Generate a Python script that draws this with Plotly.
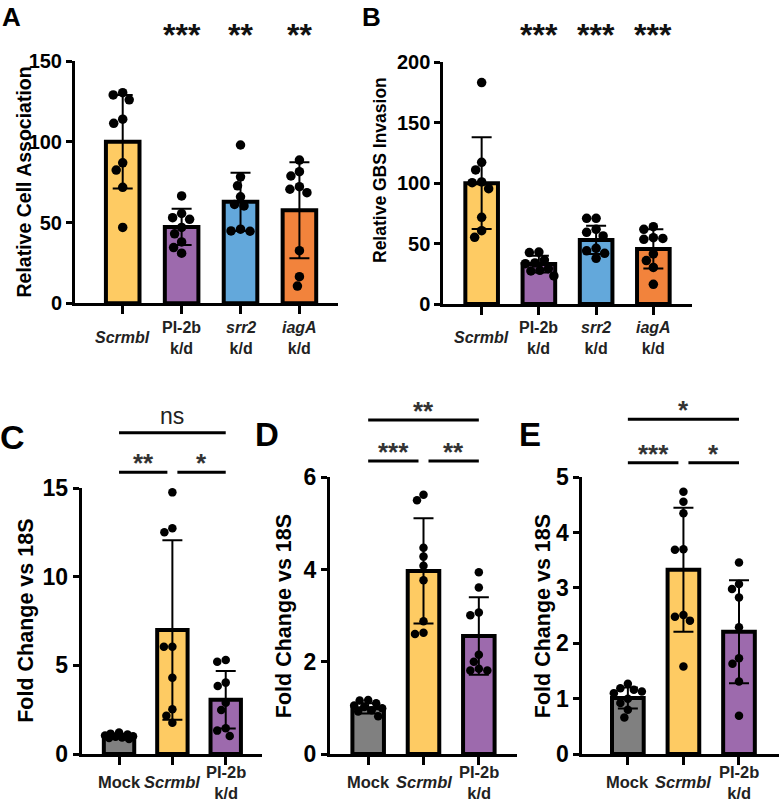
import numpy as np
import plotly.graph_objects as go

W, H = 779, 804
FONT = "Liberation Sans, Arial, Helvetica, sans-serif"

# ---------------- data ----------------
a_labels = ["<i>Scrmbl</i>", "PI-2b<br>k/d", "<i>srr2</i><br>k/d", "<i>iagA</i><br>k/d"]
a_means = [100.0, 47.3, 62.8, 57.6]
a_sd = [29.0, 11.2, 18.0, 29.7]
a_scrmbl = [130.4, 129.0, 126.0, 114.0, 111.4, 87.0, 82.5, 71.8, 47.0]
a_pi2b = [66.5, 55.6, 53.0, 52.0, 47.0, 43.0, 38.0, 34.5, 31.0]
a_srr2 = [98.0, 78.3, 72.7, 65.9, 61.2, 60.3, 45.9, 44.8, 44.6]
a_iaga = [88.7, 81.5, 78.8, 72.2, 70.6, 68.5, 32.6, 16.5, 10.7]
a_stars = ["", "***", "**", "**"]

b_labels = a_labels
b_means = [100.0, 33.0, 53.0, 45.6]
b_sd = [38.0, 7.0, 11.7, 16.2]
b_scrmbl = [183.2, 117.2, 110.9, 101.0, 100.4, 95.4, 71.7, 60.7, 55.2]
b_pi2b = [43.0, 42.6, 36.4, 34.0, 33.4, 29.2, 27.9, 27.3, 23.2]
b_srr2 = [70.9, 70.9, 61.8, 59.3, 56.3, 46.1, 44.0, 41.9, 37.8]
b_iaga = [64.0, 61.8, 54.9, 54.3, 53.5, 41.4, 35.9, 30.3, 16.3]
b_stars = ["", "***", "***", "***"]

cde_labels = ["Mock", "<i>Scrmbl</i>", "PI-2b<br>k/d"]

c_means = [1.02, 7.0, 3.06]
c_sd = [0.12, 5.07, 1.62]
c_mock = [1.22, 1.15, 1.10, 1.05, 1.00, 0.97, 0.93, 0.90, 0.85]
c_scrmbl = [14.77, 12.74, 12.52, 6.06, 6.06, 4.31, 2.52, 2.16, 1.77]
c_pi2b = [5.31, 5.21, 4.03, 3.84, 2.90, 2.48, 1.45, 1.32, 1.02]
c_comp = [(0, 1, "**"), (1, 2, "*"), (0, 2, "ns")]

d_means = [0.99, 3.97, 2.56]
d_sd = [0.11, 1.14, 0.84]
d_mock = [1.17, 1.16, 1.10, 1.05, 1.02, 0.99, 0.95, 0.92, 0.82]
d_scrmbl = [5.62, 5.50, 4.47, 4.28, 4.08, 3.77, 2.88, 2.60, 2.63]
d_pi2b = [3.94, 3.61, 3.07, 3.01, 2.15, 2.00, 1.85, 1.81, 1.81]
d_comp = [(0, 1, "***"), (1, 2, "**"), (0, 2, "**")]

e_means = [1.01, 3.33, 2.21]
e_sd = [0.19, 1.12, 0.93]
e_mock = [1.27, 1.19, 1.16, 1.13, 1.10, 1.00, 0.92, 0.80, 0.66]
e_scrmbl = [4.74, 4.56, 4.35, 3.70, 3.69, 2.51, 2.48, 2.41, 1.58]
e_pi2b = [3.46, 3.07, 2.98, 2.83, 2.29, 1.73, 1.63, 1.31, 0.69]
e_comp = [(0, 1, "***"), (1, 2, "*"), (0, 2, "*")]

YELLOW, PURPLE, BLUE, ORANGE, GRAY = "#FECB63", "#9D6AAD", "#63A8DB", "#F2833C", "#808080"

# ---------------- layout geometry (pixels) ----------------
panels = [
    dict(key="A", x0=75, x1=338.3, ytop=61, ybot=303.3, xr=[-0.81, 3.66], yr=[0, 150], dt=50,
         groups=[a_scrmbl, a_pi2b, a_srr2, a_iaga], means=a_means, sd=a_sd, labels=a_labels,
         colors=[YELLOW, PURPLE, BLUE, ORANGE], title="Relative Cell Association", tsize=19.5,
         tx=23, ty=182.5, tickfs=20, ms=9.5, lim=15, lab_y=338, lab_fs=16),
    dict(key="B", x0=443.3, x1=691.7, ytop=62.3, ybot=304, xr=[-0.67, 3.67], yr=[0, 200], dt=50,
         groups=[b_scrmbl, b_pi2b, b_srr2, b_iaga], means=b_means, sd=b_sd, labels=b_labels,
         colors=[YELLOW, PURPLE, BLUE, ORANGE], title="Relative GBS Invasion", tsize=17.5,
         tx=380, ty=170, tickfs=20, ms=9.5, lim=15, lab_y=338, lab_fs=16),
    dict(key="C", x0=81.7, x1=262, ytop=488.3, ybot=754, xr=[-0.7, 2.68], yr=[0, 15], dt=5,
         groups=[c_mock, c_scrmbl, c_pi2b], means=c_means, sd=c_sd, labels=cde_labels,
         colors=[GRAY, YELLOW, PURPLE], title="Fold Change vs 18S", tsize=21.5,
         tx=26, ty=620.8, tickfs=23, ms=8.5, lim=14, lab_y=782, lab_fs=16.5,
         comp=c_comp, low=472.3, high=432.7),
    dict(key="D", x0=330, x1=517, ytop=477.3, ybot=754, xr=[-0.69, 2.69], yr=[0, 6], dt=2,
         groups=[d_mock, d_scrmbl, d_pi2b], means=d_means, sd=d_sd, labels=cde_labels,
         colors=[GRAY, YELLOW, PURPLE], title="Fold Change vs 18S", tsize=21.5,
         tx=283.5, ty=616.7, tickfs=23, ms=8.5, lim=14, lab_y=782, lab_fs=16.5,
         comp=d_comp, low=461, high=420),
    dict(key="E", x0=582.3, x1=779, ytop=477.3, ybot=754, xr=[-0.82, 2.72], yr=[0, 5], dt=1,
         groups=[e_mock, e_scrmbl, e_pi2b], means=e_means, sd=e_sd, labels=cde_labels,
         colors=[GRAY, YELLOW, PURPLE], title="Fold Change vs 18S", tsize=21.5,
         tx=542.5, ty=616.7, tickfs=23, ms=8.5, lim=14, lab_y=782, lab_fs=16.5,
         comp=e_comp, low=462.7, high=419.3),
]


def px_x(p):
    return p / W


def px_y(p):
    return 1 - p / H


def swarm(vals, ppu_y, d, limit):
    ys = [v * ppu_y for v in vals]
    order = sorted(range(len(vals)), key=lambda i: -vals[i])
    grid = np.arange(-limit, limit + 1e-9, 0.5)
    px, py = [], []
    out = [0.0] * len(vals)
    for i in order:
        y = ys[i]
        if px:
            dist = np.min(np.hypot(grid[:, None] - np.array(px)[None, :],
                                   y - np.array(py)[None, :]), axis=1)
            ok = dist >= d
            if ok.any():
                cand = grid[ok]
                x = cand[np.argmin(np.abs(cand) + 1e-3 * (cand > 0))]
            else:
                x = grid[np.argmax(dist)]
        else:
            x = 0.0
        px.append(x)
        py.append(y)
        out[i] = float(x)
    return out


fig = go.Figure()
annotations = []
shapes = []
layout_axes = {}

for k, p in enumerate(panels):
    n = k + 1
    xa = "x" if n == 1 else f"x{n}"
    ya = "y" if n == 1 else f"y{n}"
    ncat = len(p["groups"])
    cats = list(range(ncat))
    ppu_x = (p["x1"] - p["x0"]) / (p["xr"][1] - p["xr"][0])
    ppu_y = (p["ybot"] - p["ytop"]) / (p["yr"][1] - p["yr"][0])

    fig.add_trace(go.Bar(
        x=cats, y=p["means"], width=0.57, xaxis=xa, yaxis=ya,
        marker=dict(color=p["colors"], line=dict(color="black", width=4)),
        error_y=dict(type="data", array=p["sd"], visible=True, color="black",
                     thickness=2, width=10),
        showlegend=False, hoverinfo="skip"))

    for ci, vals in enumerate(p["groups"]):
        offs = swarm(vals, ppu_y, p["ms"], p["lim"])
        fig.add_trace(go.Scatter(
            x=[ci + o / ppu_x for o in offs], y=vals, mode="markers",
            xaxis=xa, yaxis=ya, cliponaxis=False,
            marker=dict(color="black", size=p["ms"], line=dict(width=0)),
            showlegend=False, hoverinfo="skip"))

    xkey = "xaxis" if n == 1 else f"xaxis{n}"
    ykey = "yaxis" if n == 1 else f"yaxis{n}"
    layout_axes[xkey] = dict(
        domain=[px_x(p["x0"]), px_x(p["x1"])], range=p["xr"], anchor=ya,
        showline=True, linecolor="black", linewidth=3, ticks="outside",
        tickvals=cats, ticklen=8, tickwidth=3, tickcolor="black",
        showticklabels=False, showgrid=False, zeroline=False, fixedrange=True,
        automargin=False)
    tv = list(np.arange(p["yr"][0], p["yr"][1] + 1e-9, p["dt"]))
    layout_axes[ykey] = dict(
        domain=[px_y(p["ybot"]), px_y(p["ytop"])], range=p["yr"], anchor=xa,
        showline=True, linecolor="black", linewidth=3, ticks="outside",
        tickvals=tv, ticktext=[f"{v:g}" for v in tv], ticklen=6, tickwidth=3,
        tickcolor="black",
        tickfont=dict(family=FONT, size=p["tickfs"], color="black", weight="bold"),
        showgrid=False, zeroline=False, fixedrange=True, automargin=False)

    # y-axis title
    annotations.append(dict(
        text=p["title"], x=px_x(p["tx"]), y=px_y(p["ty"]),
        xref="paper", yref="paper", textangle=-90, showarrow=False,
        xanchor="center", yanchor="middle",
        font=dict(family=FONT, size=p["tsize"], color="black", weight="bold")))

    # category labels
    for ci, lab in enumerate(p["labels"]):
        annotations.append(dict(
            text=lab, x=ci, y=px_y(p["lab_y"]), xref=xa, yref="paper",
            showarrow=False, xanchor="center", yanchor="middle",
            font=dict(family=FONT, size=p["lab_fs"], color="#222222", weight="bold")))

    # significance
    if p["key"] in ("A", "B"):
        stars = a_stars if p["key"] == "A" else b_stars
        for ci, s in enumerate(stars):
            if s:
                annotations.append(dict(
                    text=s, x=ci, y=px_y(35), xref=xa, yref="paper", showarrow=False,
                    xanchor="center", yanchor="middle",
                    font=dict(family=FONT, size=32, color="#111111", weight="bold")))
    else:
        trim = 5 / ppu_x
        for (i, j, lab) in p["comp"]:
            if j - i == 1:
                ly = p["low"]
                xa0 = i + (trim if i > 0 else 0)
                xa1 = j - (trim if j < ncat - 1 else 0)
            else:
                ly = p["high"]
                xa0, xa1 = i, j
            shapes.append(dict(type="line", xref=xa, yref="paper",
                               x0=xa0, x1=xa1, y0=px_y(ly), y1=px_y(ly),
                               line=dict(color="black", width=3)))
            if lab == "ns":
                ty = ly - 17
                annotations.append(dict(
                    text=lab, x=(xa0 + xa1) / 2, y=px_y(ty), xref=xa, yref="paper",
                    showarrow=False, xanchor="center", yanchor="middle",
                    font=dict(family=FONT, size=23, color="#222222")))
            else:
                ty = ly - 15 + 6
                annotations.append(dict(
                    text=lab, x=(xa0 + xa1) / 2, y=px_y(ty), xref=xa, yref="paper",
                    showarrow=False, xanchor="center", yanchor="middle",
                    font=dict(family=FONT, size=26, color="#333333", weight="bold")))

# panel letters
for lab, cx, cy, fs, anc in [("A", 11, 0, 26, "top"), ("B", 371, 0, 26, "top"),
                             ("C", 12, 437, 34, "middle"), ("D", 267, 434, 33, "middle"),
                             ("E", 530, 434, 33, "middle")]:
    annotations.append(dict(
        text=lab, x=px_x(cx), y=px_y(cy), xref="paper", yref="paper", showarrow=False,
        xanchor="center", yanchor=anc,
        font=dict(family=FONT, size=fs, color="black", weight="bold")))

fig.update_layout(
    width=W, height=H, autosize=False,
    margin=dict(l=0, r=0, t=0, b=0, autoexpand=False),
    paper_bgcolor="white", plot_bgcolor="white",
    barmode="overlay", showlegend=False,
    annotations=annotations, shapes=shapes,
    font=dict(family=FONT, color="black"),
    **layout_axes)

fig.write_html("out.html")
